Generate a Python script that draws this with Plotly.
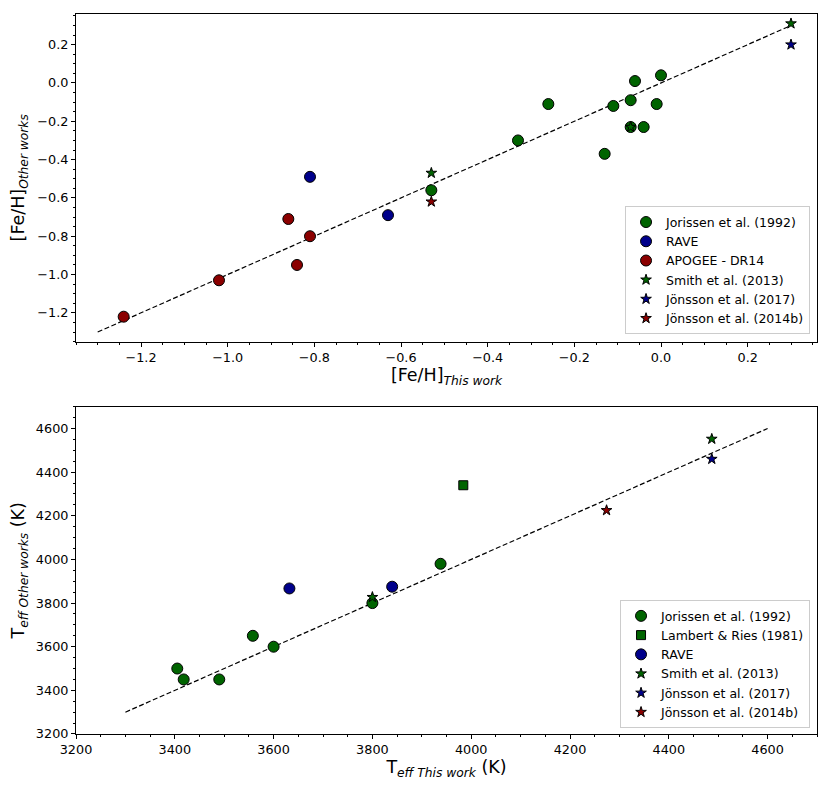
import plotly.graph_objects as go
from plotly.subplots import make_subplots

# --- [Fe/H]: this work (x) vs other works (y) ---
jor_feh_x = [-0.53, -0.33, -0.26, -0.13, -0.11, -0.07, -0.06, -0.07, -0.04, -0.01, 0.00]
jor_feh_y = [-0.56, -0.30, -0.11, -0.37, -0.12, -0.09, 0.01, -0.23, -0.23, -0.11, 0.04]
rave_feh_x = [-0.81, -0.63]
rave_feh_y = [-0.49, -0.69]
apogee_feh_x = [-1.24, -1.02, -0.86, -0.84, -0.81]
apogee_feh_y = [-1.22, -1.03, -0.71, -0.95, -0.80]
smith_feh_x = [-0.53, -0.07, 0.30]
smith_feh_y = [-0.47, -0.23, 0.31]
jon17_feh_x = [0.30]
jon17_feh_y = [0.20]
jon14_feh_x = [-0.53]
jon14_feh_y = [-0.62]
feh_line = [-1.3, 0.3]

# --- Teff: this work (x) vs other works (y) ---
jor_teff_x = [3405, 3418, 3490, 3558, 3600, 3800, 3938]
jor_teff_y = [3500, 3450, 3450, 3650, 3600, 3800, 3980]
lambert_teff_x = [3984]
lambert_teff_y = [4340]
rave_teff_x = [3632, 3840]
rave_teff_y = [3867, 3875]
smith_teff_x = [3800, 4487]
smith_teff_y = [3827, 4552]
jon17_teff_x = [4487]
jon17_teff_y = [4460]
jon14_teff_x = [4274]
jon14_teff_y = [4225]
teff_line = [3300, 4600]

GREEN = "#006400"
BLUE = "#00008b"
RED = "#8b0000"

fig = make_subplots(rows=2, cols=1)


def add_pts(x, y, name, color, symbol, size, row, legend):
    fig.add_trace(go.Scatter(
        x=x, y=y, mode="markers", name=name, legend=legend,
        marker=dict(color=color, symbol=symbol, size=size,
                    line=dict(color="black", width=1)),
    ), row=row, col=1)


# 1:1 lines first so points sit on top
fig.add_trace(go.Scatter(x=feh_line, y=feh_line, mode="lines", showlegend=False,
                         line=dict(color="black", width=1.2, dash="5px,2.5px")), row=1, col=1)
fig.add_trace(go.Scatter(x=teff_line, y=teff_line, mode="lines", showlegend=False,
                         line=dict(color="black", width=1.2, dash="5px,2.5px")), row=2, col=1)

# top panel
add_pts(jor_feh_x, jor_feh_y, "Jorissen et al. (1992)", GREEN, "circle", 11, 1, "legend")
add_pts(rave_feh_x, rave_feh_y, "RAVE", BLUE, "circle", 11, 1, "legend")
add_pts(apogee_feh_x, apogee_feh_y, "APOGEE - DR14", RED, "circle", 11, 1, "legend")
add_pts(smith_feh_x, smith_feh_y, "Smith et al. (2013)", GREEN, "star", 8, 1, "legend")
add_pts(jon17_feh_x, jon17_feh_y, "Jönsson et al. (2017)", BLUE, "star", 8, 1, "legend")
add_pts(jon14_feh_x, jon14_feh_y, "Jönsson et al. (2014b)", RED, "star", 8, 1, "legend")

# bottom panel
add_pts(jor_teff_x, jor_teff_y, "Jorissen et al. (1992)", GREEN, "circle", 11, 2, "legend2")
add_pts(lambert_teff_x, lambert_teff_y, "Lambert & Ries (1981)", GREEN, "square", 9, 2, "legend2")
add_pts(rave_teff_x, rave_teff_y, "RAVE", BLUE, "circle", 11, 2, "legend2")
add_pts(smith_teff_x, smith_teff_y, "Smith et al. (2013)", GREEN, "star", 8, 2, "legend2")
add_pts(jon17_teff_x, jon17_teff_y, "Jönsson et al. (2017)", BLUE, "star", 8, 2, "legend2")
add_pts(jon14_teff_x, jon14_teff_y, "Jönsson et al. (2014b)", RED, "star", 8, 2, "legend2")

axis_style = dict(
    showline=True, mirror=True, linecolor="black", linewidth=1,
    showgrid=False, zeroline=False,
    ticks="outside", ticklen=4, tickwidth=1, tickcolor="black",
    tickfont=dict(size=12.8, color="black"),
    title_font=dict(size=17.5, color="black"),
    minor=dict(ticks="outside", ticklen=2, tickcolor="black"),
)

fig.update_xaxes(axis_style)
fig.update_yaxes(axis_style)

fig.update_xaxes(domain=[0, 1], range=[-1.35, 0.36], dtick=0.2, tick0=0, tickformat=".1f",
                 minor_dtick=0.05, title_text="[Fe/H]<sub><i>This work</i></sub>",
                 title_standoff=4, row=1, col=1)
fig.update_yaxes(domain=[0.545, 1], range=[-1.35, 0.36], dtick=0.2, tick0=0, tickformat=".1f",
                 minor_dtick=0.05, title_text="[Fe/H]<sub><i>Other works</i></sub>",
                 title_standoff=8, row=1, col=1)
fig.update_xaxes(domain=[0, 1], range=[3200, 4700], dtick=200, tick0=0, tickformat="d",
                 minor_dtick=50, title_text="T<sub><i>eff This work</i></sub> (K)",
                 title_standoff=4, row=2, col=1)
fig.update_yaxes(domain=[0, 0.4546], range=[3200, 4700], dtick=200, tick0=0, tickformat="d",
                 minor_dtick=50, title_text="T<sub><i>eff Other works</i></sub> (K)",
                 title_standoff=8, row=2, col=1)

legend_style = dict(
    xanchor="right", yanchor="bottom", x=0.9906,
    bgcolor="white", bordercolor="#cccccc", borderwidth=1,
    font=dict(size=12.5, color="black"), itemwidth=30,
)

# the page body adds an 8px offset, so the figure is 8px smaller and margins trimmed
fig.update_layout(
    width=822, height=784,
    margin=dict(l=68, r=13, t=6, b=58),
    plot_bgcolor="white", paper_bgcolor="white",
    font=dict(family="DejaVu Sans", color="black"),
    legend=dict(legend_style, y=0.555),
    legend2=dict(legend_style, y=0.008),
)

fig.write_html("out.html")
